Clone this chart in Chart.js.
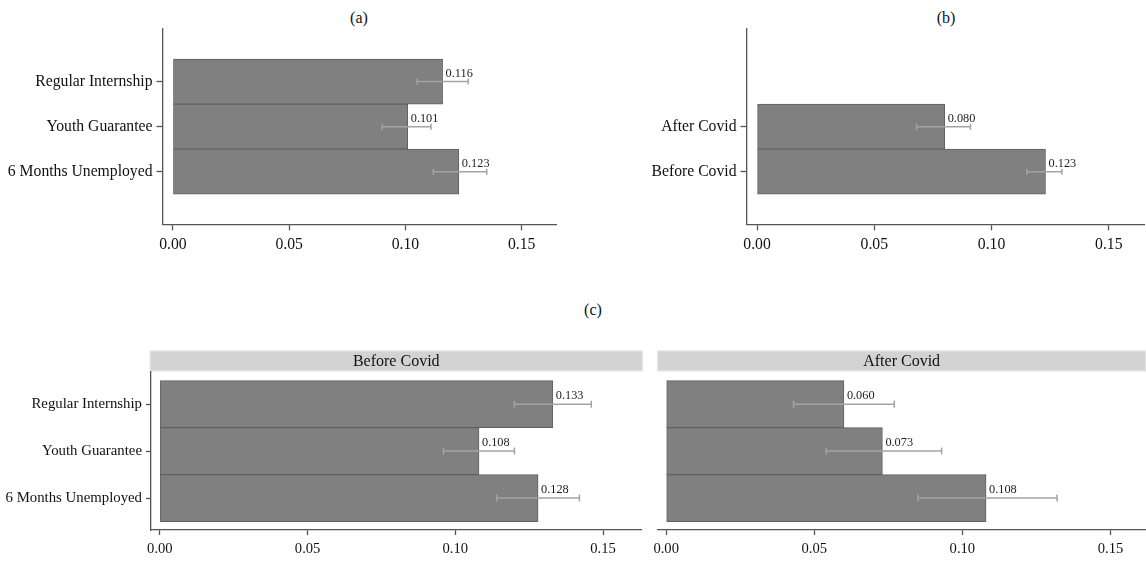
<!DOCTYPE html>
<html>
<head>
<meta charset="utf-8">
<script src="https://cdn.jsdelivr.net/npm/chart.js@4.4.0/dist/chart.umd.min.js"></script>
<style>
  html, body { margin: 0; padding: 0; background: #ffffff; }
  body { width: 1146px; height: 561px; position: relative; overflow: hidden;
         font-family: 'Liberation Serif', 'Times New Roman', serif; }
  .panel { position: absolute; }
  .panel canvas { display: block; }
  .ttl { position: absolute; font-size: 16px; line-height: 16px; color: #111;
         transform: translateX(-50%); white-space: nowrap; }
</style>
</head>
<body>
<div class="ttl" style="left:359px; top:10px;">(a)</div>
<div class="ttl" style="left:946px; top:10px;">(b)</div>
<div class="ttl" style="left:593px; top:302px;">(c)</div>

<div class="panel" style="left:0px; top:0px; width:572px; height:262px;"><canvas id="chartA"></canvas></div>
<div class="panel" style="left:572px; top:0px; width:574px; height:262px;"><canvas id="chartB"></canvas></div>
<div class="panel" style="left:0px; top:345px; width:646px; height:216px;"><canvas id="chartC1"></canvas></div>
<div class="panel" style="left:646px; top:345px; width:500px; height:216px;"><canvas id="chartC2"></canvas></div>

<script>
// (a) by type of program
const typeLabels = ['Regular Internship', 'Youth Guarantee', '6 Months Unemployed'];
const typeMeans  = [0.116, 0.101, 0.123];
const typeLow    = [0.105, 0.090, 0.112];
const typeHigh   = [0.127, 0.111, 0.135];

// (b) by period
const periodLabels = ['After Covid', 'Before Covid'];
const periodMeans  = [0.080, 0.123];
const periodLow    = [0.068, 0.115];
const periodHigh   = [0.091, 0.130];

// (c) program by period
const facetTitles = ['Before Covid', 'After Covid'];
const beforeMeans = [0.133, 0.108, 0.128];
const beforeLow   = [0.120, 0.096, 0.114];
const beforeHigh  = [0.146, 0.120, 0.142];
const afterMeans  = [0.060, 0.073, 0.108];
const afterLow    = [0.043, 0.054, 0.085];
const afterHigh   = [0.077, 0.093, 0.132];

const xTickValues = [0, 0.05, 0.10, 0.15];

const SERIF = "'Liberation Serif', 'Times New Roman', serif";
const AXIS_COLOR = '#555555';

// confidence interval whiskers and value labels drawn on top of the bars
const ciPlugin = {
  id: 'ciBars',
  afterDatasetsDraw(chart, args, opts) {
    const { ctx, scales: { x, y } } = chart;
    const pts = chart.data.datasets[0].data;
    ctx.save();
    pts.forEach((pt, i) => {
      const yc = y.getPixelForValue(pt.y);
      const x0 = x.getPixelForValue(opts.low[i]);
      const x1 = x.getPixelForValue(opts.high[i]);
      ctx.strokeStyle = '#a4a4a4';
      ctx.lineWidth = 1.5;
      ctx.beginPath();
      ctx.moveTo(x0, yc); ctx.lineTo(x1, yc);
      ctx.moveTo(x0, yc - opts.cap); ctx.lineTo(x0, yc + opts.cap);
      ctx.moveTo(x1, yc - opts.cap); ctx.lineTo(x1, yc + opts.cap);
      ctx.stroke();
      const xe = x.getPixelForValue(pt.x);
      ctx.fillStyle = '#1e1e1e';
      ctx.font = opts.fontSize + 'px ' + SERIF;
      ctx.textAlign = 'left';
      ctx.textBaseline = 'alphabetic';
      ctx.fillText(pt.x.toFixed(3), xe + 3, yc - 5);
    });
    ctx.restore();
  }
};

// grey facet header above the plot area
const stripPlugin = {
  id: 'facetStrip',
  beforeDraw(chart, args, opts) {
    if (!opts || !opts.text) return;
    const { ctx, chartArea: a } = chart;
    const left = a.left - opts.extend;
    const right = a.right + opts.extend;
    const top = a.top - opts.height;
    ctx.save();
    ctx.fillStyle = '#d3d3d3';
    ctx.fillRect(left, top, right - left, opts.height);
    ctx.strokeStyle = '#e2e8ea';
    ctx.lineWidth = 1;
    ctx.strokeRect(left + 0.5, top + 0.5, right - left - 1, opts.height - 1);
    ctx.fillStyle = '#111111';
    ctx.font = '16px ' + SERIF;
    ctx.textAlign = 'center';
    ctx.textBaseline = 'middle';
    ctx.fillText(opts.text, (left + right) / 2, top + opts.height / 2 + 1);
    ctx.restore();
  }
};

function makeChart(id, cfg) {
  const pts = cfg.means.map((v, i) => ({ x: v, y: i }));
  return new Chart(document.getElementById(id), {
    type: 'bar',
    data: {
      datasets: [{
        data: pts,
        backgroundColor: '#808080',
        borderColor: '#606060',
        borderWidth: 1,
        borderSkipped: false,
        barPercentage: 1,
        categoryPercentage: 1
      }]
    },
    options: {
      indexAxis: 'y',
      responsive: true,
      maintainAspectRatio: false,
      animation: false,
      events: [],
      layout: { padding: cfg.padding },
      plugins: {
        legend: { display: false },
        tooltip: { enabled: false },
        title: { display: false },
        ciBars: { low: cfg.low, high: cfg.high, cap: cfg.cap, fontSize: cfg.valueFont },
        facetStrip: cfg.strip || {}
      },
      scales: {
        x: {
          type: 'linear',
          min: cfg.xMin,
          max: cfg.xMax,
          offset: false,
          afterBuildTicks: (s) => { s.ticks = xTickValues.map(v => ({ value: v })); },
          afterFit: (s) => { s.height = cfg.xHeight; },
          ticks: {
            autoSkip: false,
            maxRotation: 0,
            padding: cfg.xPad,
            color: '#111111',
            font: { family: SERIF, size: cfg.tickFont },
            callback: (v) => Number(v).toFixed(2)
          },
          grid: { display: true, offset: false, drawOnChartArea: false, drawTicks: true,
                  tickLength: cfg.tickLen, tickWidth: 1.3, tickColor: AXIS_COLOR },
          border: { display: true, color: AXIS_COLOR, width: 1.3 }
        },
        y: {
          type: 'linear',
          display: cfg.showY,
          reverse: true,
          offset: false,
          min: cfg.yMin,
          max: cfg.yMax,
          afterBuildTicks: (s) => { s.ticks = cfg.labels.map((_, i) => ({ value: i })); },
          afterFit: (s) => { s.width = cfg.yWidth; },
          ticks: {
            autoSkip: false,
            padding: 4,
            color: '#111111',
            font: { family: SERIF, size: cfg.labelFont },
            callback: (v) => cfg.labels[v]
          },
          grid: { display: true, offset: false, drawOnChartArea: false, drawTicks: true,
                  tickLength: cfg.tickLen, tickWidth: 1.3, tickColor: AXIS_COLOR },
          border: { display: true, color: AXIS_COLOR, width: 1.3 }
        }
      }
    },
    plugins: [ciPlugin, stripPlugin]
  });
}

// (a)
makeChart('chartA', {
  labels: typeLabels, means: typeMeans, low: typeLow, high: typeHigh,
  xMin: -0.0045, xMax: 0.165, yMin: -1.18, yMax: 3.17,
  padding: { top: 28.5, right: 15.5, left: 0, bottom: 0 },
  yWidth: 162.5, xHeight: 37.7, showY: true,
  tickLen: 6, xPad: 5, tickFont: 15.7, labelFont: 15.7, valueFont: 12.3, cap: 3
});

// (b)
makeChart('chartB', {
  labels: periodLabels, means: periodMeans, low: periodLow, high: periodHigh,
  xMin: -0.0045, xMax: 0.165, yMin: -2.18, yMax: 2.17,
  padding: { top: 28.5, right: 2, left: 0, bottom: 0 },
  yWidth: 174.5, xHeight: 37.7, showY: true,
  tickLen: 6, xPad: 5, tickFont: 15.7, labelFont: 15.7, valueFont: 12.3, cap: 3
});

// (c) before covid facet
makeChart('chartC1', {
  labels: typeLabels, means: beforeMeans, low: beforeLow, high: beforeHigh,
  xMin: -0.003, xMax: 0.163, yMin: -0.70, yMax: 2.68,
  padding: { top: 26.3, right: 4.5, left: 0, bottom: 0 },
  yWidth: 151, xHeight: 31, showY: true,
  tickLen: 5, xPad: 5, tickFont: 14.6, labelFont: 14.8, valueFont: 12.3, cap: 3.5,
  strip: { text: facetTitles[0], height: 20.7, extend: 1.2 }
});

// (c) after covid facet
makeChart('chartC2', {
  labels: typeLabels, means: afterMeans, low: afterLow, high: afterHigh,
  xMin: -0.003, xMax: 0.162, yMin: -0.70, yMax: 2.68,
  padding: { top: 26.3, right: 0, left: 11.3, bottom: 0 },
  yWidth: 0, xHeight: 31, showY: false,
  tickLen: 5, xPad: 5, tickFont: 14.6, labelFont: 14.8, valueFont: 12.3, cap: 3.5,
  strip: { text: facetTitles[1], height: 20.7, extend: 0 }
});
</script>
</body>
</html>
